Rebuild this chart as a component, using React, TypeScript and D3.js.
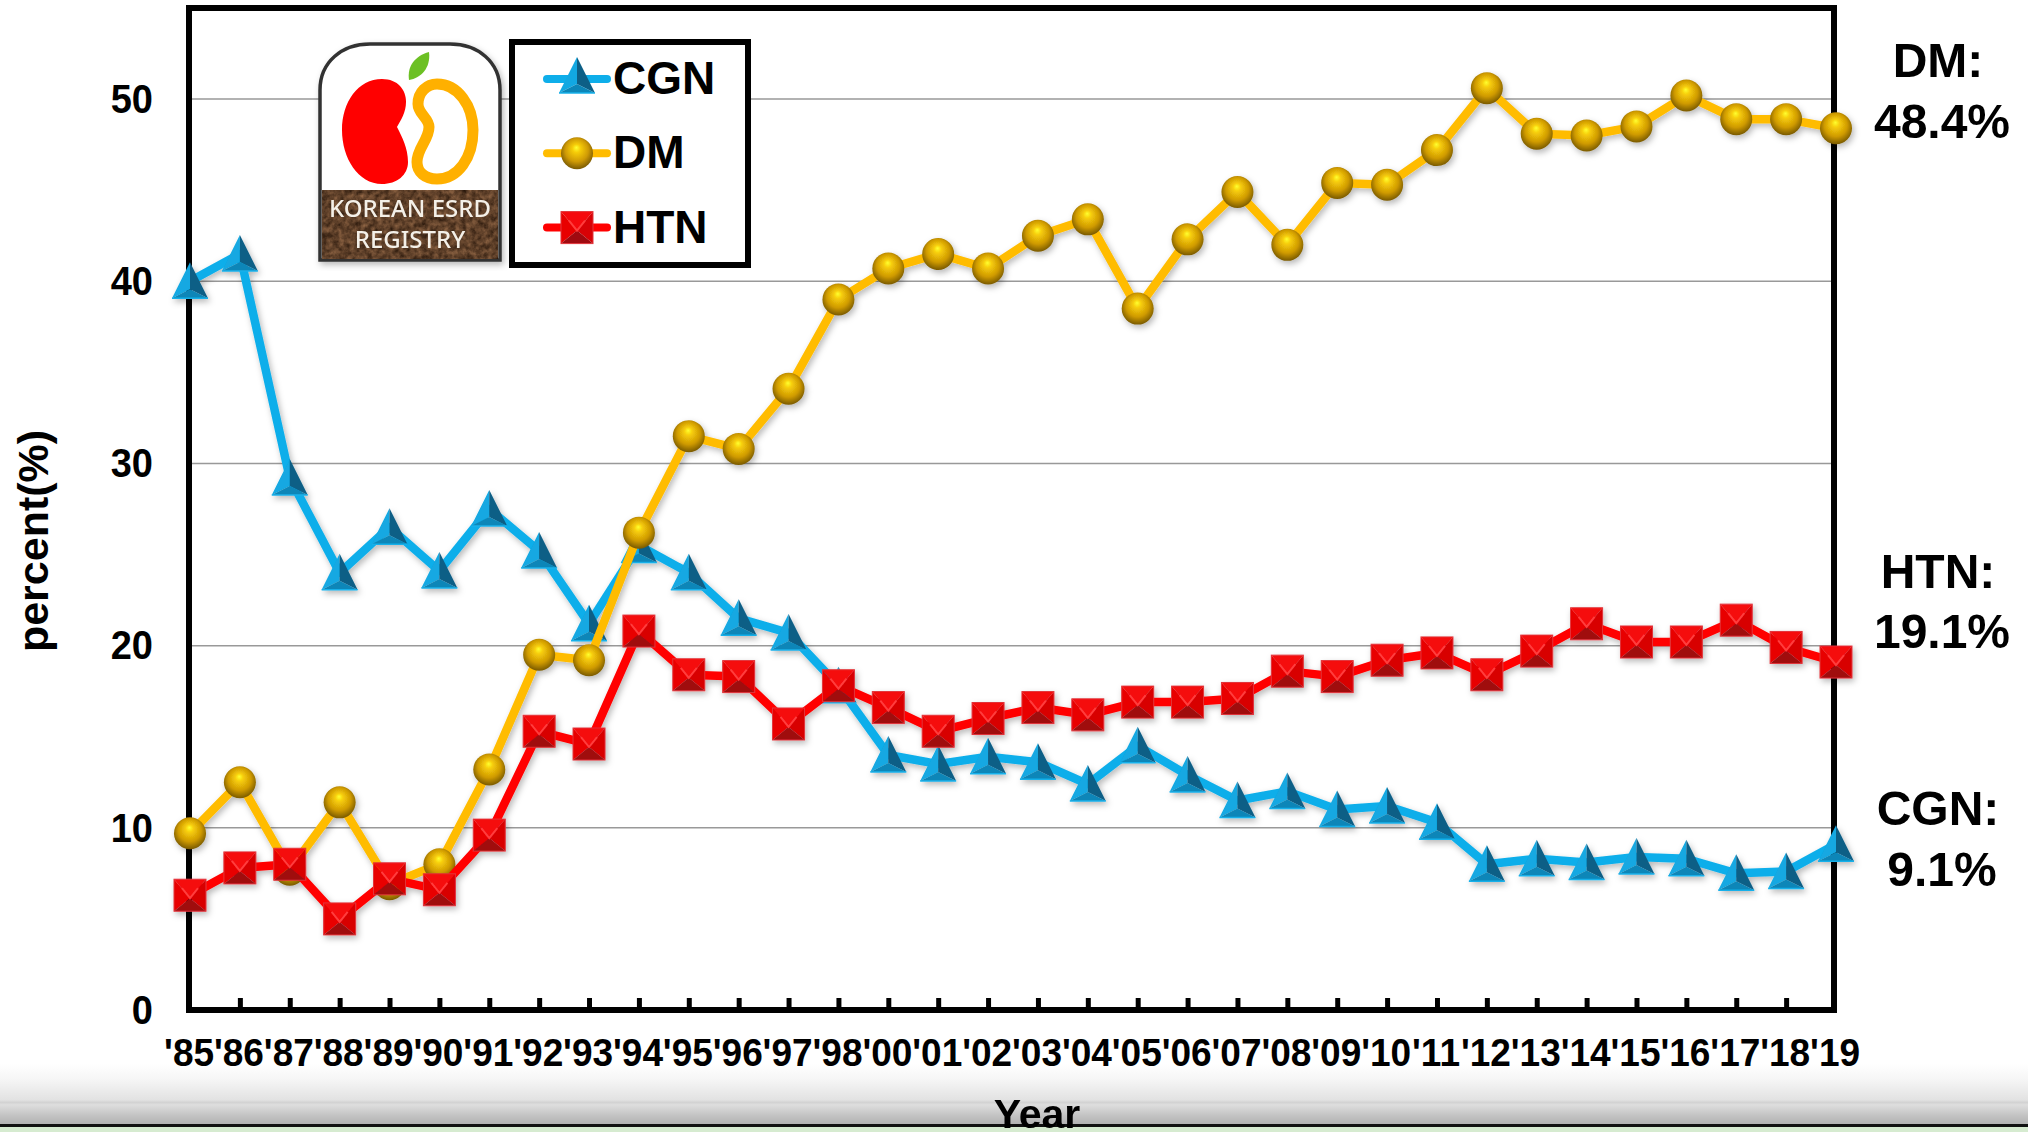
import { useEffect, useRef } from "react";
import * as d3 from "d3";

const years = ["'85", "'86", "'87", "'88", "'89", "'90", "'91", "'92", "'93", "'94", "'95", "'96", "'97", "'98", "'00", "'01", "'02", "'03", "'04", "'05", "'06", "'07", "'08", "'09", "'10", "'11", "'12", "'13", "'14", "'15", "'16", "'17", "'18", "'19"];
const cgn = [40, 41.5, 29.2, 24, 26.5, 24.1, 27.5, 25.2, 21.2, 25.5, 24, 21.5, 20.7, 17.8, 14, 13.5, 13.9, 13.6, 12.4, 14.5, 12.9, 11.5, 12, 11, 11.2, 10.3, 8, 8.3, 8.1, 8.4, 8.3, 7.5, 7.6, 9.1];
const dm = [9.7, 12.5, 7.7, 11.4, 6.9, 8, 13.2, 19.5, 19.2, 26.2, 31.5, 30.8, 34.1, 39, 40.7, 41.5, 40.7, 42.5, 43.4, 38.5, 42.3, 44.9, 42, 45.4, 45.3, 47.2, 50.6, 48.1, 48, 48.5, 50.2, 48.9, 48.9, 48.4];
const htn = [6.3, 7.8, 8, 5, 7.2, 6.6, 9.6, 15.3, 14.6, 20.8, 18.4, 18.3, 15.7, 17.8, 16.6, 15.3, 16, 16.6, 16.2, 16.9, 16.9, 17.1, 18.6, 18.3, 19.2, 19.6, 18.4, 19.7, 21.2, 20.2, 20.2, 21.4, 19.9, 19.1];
const yTicks = [0, 10, 20, 30, 40, 50];
const endLabels = [
  ["DM:", "48.4%", 77, 138],
  ["HTN:", "19.1%", 588, 648],
  ["CGN:", "9.1%", 825, 886],
] as const;

const FONT = "'Liberation Sans', Arial, sans-serif";

function triangle(g: any, x: number, y: number) {
  const m = g.append("g").attr("transform", `translate(${x},${y})`);
  const facet = (d: string, fill: string) => m.append("path").attr("d", d).attr("fill", fill);
  facet("M0,-19L-18,17L0,8Z", "#12a8e2");
  facet("M0,-19L18,17L0,8Z", "#0d5f86");
  facet("M-18,17L18,17L0,8Z", "#0c86b8");
  m.append("path").attr("d", "M-18,17L18,17").attr("stroke", "#17b0ea").attr("stroke-width", 1.5);
}

function ball(g: any, x: number, y: number) {
  g.append("circle").attr("cx", x).attr("cy", y).attr("r", 16).attr("fill", "url(#ballFill)");
}

function square(g: any, x: number, y: number) {
  const m = g.append("g").attr("transform", `translate(${x},${y})`);
  const facet = (d: string, fill: string) => m.append("path").attr("d", d).attr("fill", fill);
  facet("M-16,-16L16,-16L0,3Z", "#f5090d");
  facet("M-16,-16L-16,16L0,3Z", "#e80000");
  facet("M16,-16L16,16L0,3Z", "#d80206");
  facet("M-16,16L16,16L0,3Z", "#a00a10");
  m.append("path").attr("d", "M-8,-7L0,3L8,-7").attr("fill", "none").attr("stroke", "#ff3d3d").attr("stroke-width", 2);
  m.append("rect").attr("x", -16).attr("y", -16).attr("width", 32).attr("height", 32).attr("fill", "none").attr("stroke", "#e2343a").attr("stroke-width", 1);
}

const seriesList = [
  { name: "CGN", values: cgn, color: "#0eaeea", mark: triangle },
  { name: "DM", values: dm, color: "#ffbc00", mark: ball },
  { name: "HTN", values: htn, color: "#ff0000", mark: square },
];

function App() {
  const svgRef = useRef<SVGSVGElement>(null);

  useEffect(() => {
    const svg = d3.select(svgRef.current);
    svg.selectAll("*").remove();

    const x = d3.scalePoint().domain(years).range([190, 1836]);
    const y = d3.scaleLinear().domain([0, 55]).range([1010, 8]);

    const defs = svg.append("defs");
    const ballGrad = defs.append("radialGradient").attr("id", "ballFill").attr("cx", "50%").attr("cy", "45%").attr("r", "58%").attr("fx", "48%").attr("fy", "32%");
    [[0, "#ffff30"], [0.22, "#f6cc08"], [0.62, "#cf9a05"], [1, "#6f5204"]].forEach(([o, c]) => ballGrad.append("stop").attr("offset", o as number).attr("stop-color", c as string));

    const band = defs.append("linearGradient").attr("id", "band").attr("x1", 0).attr("y1", 0).attr("x2", 0).attr("y2", 1);
    [[0, "#ffffff"], [0.25, "#f6f6f6"], [0.6, "#e2e2e2"], [0.64, "#d2d2d2"], [0.68, "#dedede"], [0.85, "#c4c4c4"], [1, "#b2b2b2"]].forEach(([o, c]) => band.append("stop").attr("offset", o as number).attr("stop-color", c as string));

    const shadow = defs.append("filter").attr("id", "shadow").attr("x", "-5%").attr("y", "-5%").attr("width", "110%").attr("height", "110%");
    shadow.append("feDropShadow").attr("dx", 2).attr("dy", 3).attr("stdDeviation", 3).attr("flood-color", "#000").attr("flood-opacity", 0.28);

    const soil = defs.append("filter").attr("id", "soil").attr("x", 0).attr("y", 0).attr("width", 1).attr("height", 1).attr("color-interpolation-filters", "sRGB");
    soil.append("feTurbulence").attr("type", "fractalNoise").attr("baseFrequency", 0.18).attr("numOctaves", 3).attr("seed", 4);
    soil.append("feColorMatrix").attr("values", "0.5 0 0 0 0.12  0.38 0 0 0 0.06  0.28 0 0 0 0.02  0 0 0 0 1");

    // page background and the grey strip at the bottom
    svg.append("rect").attr("width", 2028).attr("height", 1132).attr("fill", "#fff");
    svg.append("rect").attr("y", 1064).attr("width", 2028).attr("height", 60).attr("fill", "url(#band)");
    svg.append("rect").attr("y", 1124).attr("width", 2028).attr("height", 3).attr("fill", "#111");
    svg.append("rect").attr("y", 1127).attr("width", 2028).attr("height", 5).attr("fill", "#d6ebd0");

    // gridlines
    svg.append("g").selectAll("line").data(yTicks.slice(1)).join("line")
      .attr("x1", 189).attr("x2", 1834)
      .attr("y1", (d) => y(d)).attr("y2", (d) => y(d))
      .attr("stroke", "#999").attr("stroke-width", 1.5);

    // frame
    svg.append("rect").attr("x", 189).attr("y", 8).attr("width", 1645).attr("height", 1002)
      .attr("fill", "none").attr("stroke", "#000").attr("stroke-width", 6);

    // axes
    const yAxis = svg.append("g").attr("transform", "translate(189,0)").call(d3.axisLeft(y).tickValues(yTicks).tickSize(0).tickPadding(36));
    yAxis.select(".domain").remove();
    yAxis.selectAll("text").attr("font-family", FONT).attr("font-weight", 700).attr("font-size", 40).attr("fill", "#000").attr("dy", "0.33em").attr("transform", "scale(0.95,1)").attr("x", -38);

    const xAxis = svg.append("g").attr("transform", "translate(0,1010)").call(d3.axisBottom(x).tickSizeInner(-12).tickSizeOuter(0));
    xAxis.select(".domain").remove();
    xAxis.selectAll("line").attr("stroke", "#000").attr("stroke-width", 5)
      .filter((d) => d === years[0] || d === years[years.length - 1]).remove();
    xAxis.selectAll("text").attr("font-family", FONT).attr("font-weight", 700).attr("font-size", 39).attr("fill", "#000").attr("y", 56).attr("x", -1.5).attr("dy", 0).attr("transform", "scale(0.95,1)");

    const titleStyle = (t: any) => t.attr("font-family", FONT).attr("font-weight", 700).attr("fill", "#000");
    titleStyle(svg.append("text")).attr("font-size", 43).attr("text-anchor", "middle").attr("transform", "translate(48,541) rotate(-90)").text("percent(%)");

    // series, lines under their own markers
    const lineGen = d3.line<number>().x((_, i) => x(years[i]) as number).y((d) => y(d));
    const marks = svg.append("g").attr("filter", "url(#shadow)");
    seriesList.forEach((s) => {
      marks.append("path").attr("d", lineGen(s.values)).attr("fill", "none").attr("stroke", s.color).attr("stroke-width", 8.5).attr("stroke-linejoin", "round");
      s.values.forEach((v, i) => s.mark(marks, x(years[i]) as number, y(v)));
    });

    // legend
    const legend = svg.append("g");
    legend.append("rect").attr("x", 512).attr("y", 42).attr("width", 236).attr("height", 223).attr("fill", "#fff").attr("stroke", "#000").attr("stroke-width", 6);
    seriesList.forEach((s, i) => {
      const ly = 79 + i * 74.3;
      legend.append("line").attr("x1", 547).attr("x2", 607).attr("y1", ly).attr("y2", ly).attr("stroke", s.color).attr("stroke-width", 8).attr("stroke-linecap", "round");
      s.mark(legend, 577, ly + (i === 0 ? -3 : 0));
      titleStyle(legend.append("text")).attr("x", 613).attr("y", ly + 15).attr("font-size", 46).text(s.name);
    });

    // registry logo
    const logo = svg.append("g");
    logo.append("path").attr("d", "M320,260L320,90C320,62 342,44 370,44L450,44C478,44 500,62 500,90L500,260Z")
      .attr("fill", "#fff").attr("stroke", "#333").attr("stroke-width", 3.5).attr("filter", "url(#shadow)");
    logo.append("rect").attr("x", 322).attr("y", 190).attr("width", 176).attr("height", 69).attr("filter", "url(#soil)");
    logo.append("path").attr("d", "M429,52C415,56 407,66 409,80C421,78 431,68 429,52Z").attr("fill", "#6cc024");
    logo.append("path").attr("d", "M382,79C398,79 406,90 406,102C406,112 401,120 397,127C402,137 408,148 408,162C408,175 397,184 382,184C358,184 342,158 342,130C342,102 358,79 382,79Z").attr("fill", "#ff0000");
    logo.append("path").attr("d", "M437,84C458,84 473,106 473,130C473,158 458,179 437,179C425,179 417,172 417,162C417,148 429,140 429,127C429,118 418,114 418,104C418,92 427,84 437,84Z").attr("fill", "none").attr("stroke", "#ffb000").attr("stroke-width", 11);
    [["KOREAN ESRD", 217], ["REGISTRY", 248]].forEach(([t, by]) => {
      logo.append("text").attr("x", 410).attr("y", by as number).attr("text-anchor", "middle")
        .attr("font-family", "'Noto Sans', sans-serif").attr("font-weight", 500).attr("font-size", 24).attr("fill", "#f4f0e8").text(t as string);
    });

    // end-of-line callouts
    endLabels.forEach(([name, pct, y1, y2]) => {
      titleStyle(svg.append("text")).attr("x", 1938).attr("y", y1).attr("font-size", 48).attr("text-anchor", "middle").text(name);
      titleStyle(svg.append("text")).attr("x", 1942).attr("y", y2).attr("font-size", 48).attr("text-anchor", "middle").text(pct);
    });

    titleStyle(svg.append("text")).attr("x", 1037).attr("y", 1128).attr("font-size", 41).attr("text-anchor", "middle").text("Year");
  }, []);

  return <svg ref={svgRef} width={2028} height={1132} style={{ position: "absolute", left: 0, top: 0, display: "block" }} />;
}

export default App;
